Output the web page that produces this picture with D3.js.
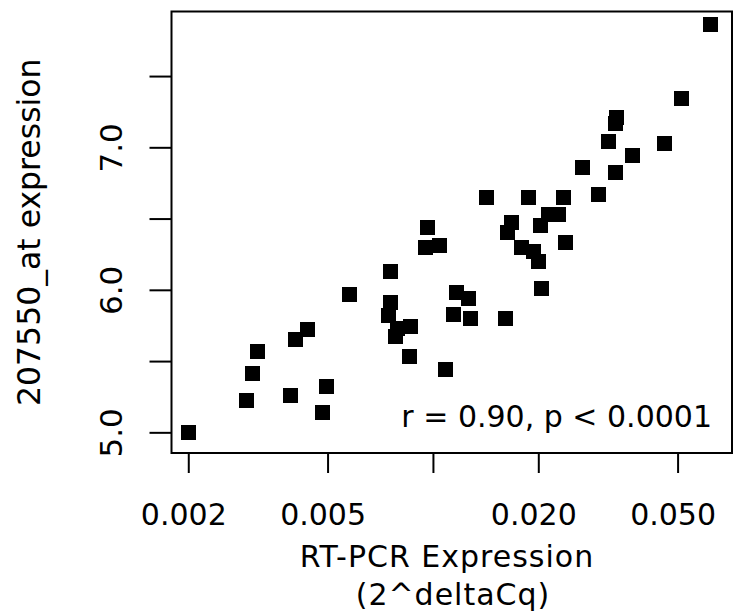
<!DOCTYPE html>
<html>
<head>
<meta charset="utf-8">
<script src="https://cdn.jsdelivr.net/npm/d3@7"></script>
<style>
body { margin: 0; background: #fff; }
svg { display: block; background: #fff; }
text { font-family: "DejaVu Sans", sans-serif; fill: #000; }
</style>
</head>
<body>
<svg id="chart" width="744" height="616"></svg>
<script>
// RT-PCR (2^deltaCq) vs array expression, one pair per sample
var rtpcr = [0.00200, 0.00293, 0.00305, 0.00316, 0.00391, 0.00405, 0.00438, 0.00495, 0.00483, 0.00579,
	0.00755, 0.00755, 0.00746, 0.00791, 0.00863, 0.00781, 0.00856, 0.01083, 0.00968, 0.00954,
	0.01046, 0.01164, 0.01265, 0.01146, 0.01282, 0.01418, 0.01617, 0.01679, 0.01638, 0.01793,
	0.01935, 0.02000, 0.02023, 0.02040, 0.01873, 0.02136, 0.02281, 0.02368, 0.02395, 0.02672,
	0.02963, 0.03164, 0.03313, 0.03350, 0.03313, 0.03705, 0.04582, 0.05138, 0.06190];
var expr = [5.00, 5.22, 5.41, 5.57, 5.26, 5.65, 5.72, 5.32, 5.14, 5.97,
	6.13, 5.91, 5.82, 5.73, 5.74, 5.67, 5.53, 5.44, 6.44, 6.30,
	6.31, 5.98, 5.94, 5.83, 5.80, 6.65, 5.80, 6.47, 6.40, 6.30,
	6.27, 6.20, 6.45, 6.01, 6.65, 6.53, 6.53, 6.65, 6.33, 6.86,
	6.67, 7.04, 6.82, 7.21, 7.17, 6.94, 7.03, 7.34, 7.86];

var xTicks = [0.002, 0.005, 0.01, 0.02, 0.05];
var xTickLabels = ["0.002", "0.005", "", "0.020", "0.050"];
var yTicks = [5, 5.5, 6, 6.5, 7, 7.5];
var yTickLabels = ["5.0", "", "6.0", "", "7.0", ""];
var statText = "r = 0.90, p < 0.0001";

var box = {left: 171.5, top: 11.5, right: 732, bottom: 453};

var svg = d3.select("#chart");

var x = d3.scaleLog().domain([0.001791, 0.07152]).range([box.left, box.right]);
var y = d3.scaleLinear().domain([4.855, 7.953]).range([box.bottom, box.top]);

// bottom axis
var xAxis = svg.append("g")
	.attr("transform", "translate(0," + box.bottom + ")")
	.call(d3.axisBottom(x).tickValues(xTicks)
		.tickFormat(function(d, i) { return xTickLabels[i]; })
		.tickSize(20));
xAxis.select(".domain").remove();
xAxis.selectAll("line").attr("stroke", "#000").attr("stroke-width", 2);
xAxis.selectAll("text")
	.attr("y", 72).attr("dy", 0).attr("dx", -5)
	.style("font-size", "30px")
	.attr("fill", "#000");

// left axis, labels turned like R's default
var yAxis = svg.append("g")
	.attr("transform", "translate(" + box.left + ",0)")
	.call(d3.axisLeft(y).tickValues(yTicks)
		.tickFormat(function(d, i) { return yTickLabels[i]; })
		.tickSize(22));
yAxis.select(".domain").remove();
yAxis.selectAll("line").attr("stroke", "#000").attr("stroke-width", 2);
yAxis.selectAll("text")
	.attr("x", 0).attr("y", 0).attr("dy", 0)
	.attr("transform", "translate(-49.5,0) rotate(-90)")
	.attr("text-anchor", "middle")
	.style("font-size", "31px")
	.attr("fill", "#000");

// frame
svg.append("rect")
	.attr("x", box.left).attr("y", box.top)
	.attr("width", box.right - box.left).attr("height", box.bottom - box.top)
	.attr("fill", "none").attr("stroke", "#000").attr("stroke-width", 2);

// points
var pts = d3.range(rtpcr.length);
svg.append("g").selectAll("rect")
	.data(pts)
	.enter().append("rect")
	.attr("x", function(i) { return x(rtpcr[i]) - 7.5; })
	.attr("y", function(i) { return y(expr[i]) - 7.5; })
	.attr("width", 15).attr("height", 15)
	.attr("fill", "#000")
	.attr("shape-rendering", "crispEdges");

// correlation note
svg.append("text")
	.attr("x", 712).attr("y", 427)
	.attr("text-anchor", "end")
	.style("font-size", "30px")
	.text(statText);

// axis titles
svg.append("text")
	.attr("x", 447).attr("y", 567)
	.attr("text-anchor", "middle")
	.style("font-size", "30px")
	.style("letter-spacing", "1px")
	.text("RT-PCR Expression");
svg.append("text")
	.attr("x", 453).attr("y", 605)
	.attr("text-anchor", "middle")
	.style("font-size", "30px")
	.style("letter-spacing", "1px")
	.text("(2^deltaCq)");
svg.append("text")
	.attr("transform", "translate(40," + ((box.top + box.bottom) / 2) + ") rotate(-90)")
	.attr("text-anchor", "middle")
	.style("font-size", "31.5px")
	.text("207550_at expression");
</script>
</body>
</html>
